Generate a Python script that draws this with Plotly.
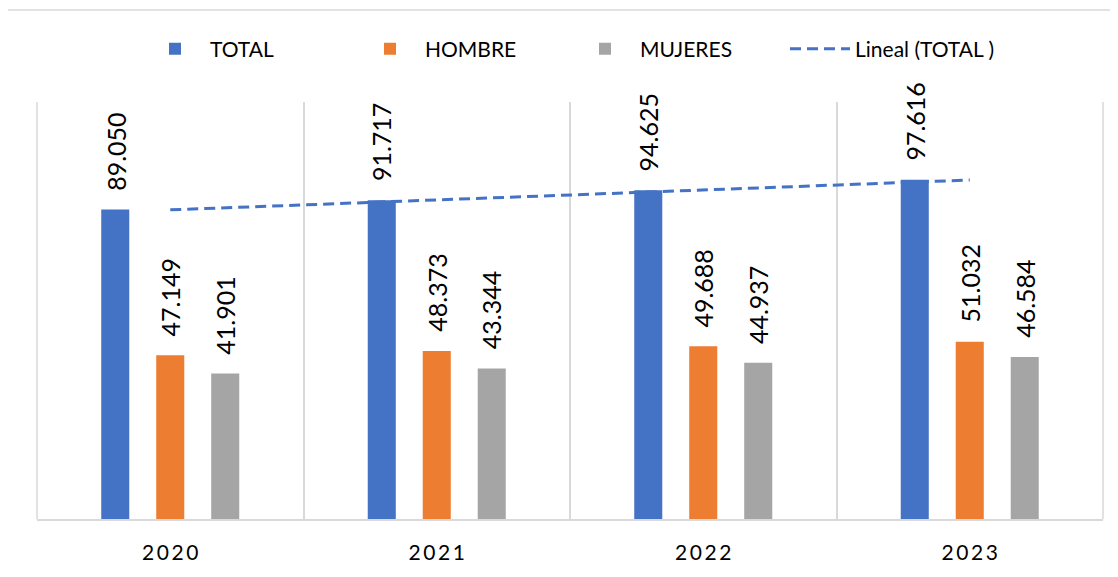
import numpy as np
import plotly.graph_objects as go

years = ["2020", "2021", "2022", "2023"]
total = [89050, 91717, 94625, 97616]
hombre = [47149, 48373, 49688, 51032]
mujeres = [41901, 43344, 44937, 46584]

colors = {"TOTAL": "#4472C4", "HOMBRE": "#ED7D31", "MUJERES": "#A5A5A5"}
series = [("TOTAL", total), ("HOMBRE", hombre), ("MUJERES", mujeres)]

FONT = "Lato, Liberation Sans, sans-serif"
GRID = "#d9d9d9"

fig = go.Figure()

for name, vals in series:
    fig.add_trace(go.Bar(
        x=years, y=vals, name=name,
        marker=dict(color=colors[name], line=dict(width=0)),
    ))

# linear trendline of TOTAL (what Excel calls "Lineal")
xi = np.arange(len(years))
slope, icpt = np.polyfit(xi, total, 1)
fig.add_trace(go.Scatter(
    x=years, y=slope * xi + icpt, mode="lines", name="Lineal (TOTAL )",
    line=dict(color="#4472C4", width=3, dash="11px,6px"),
))

# rotated value labels above the bars (x given as category index)
shifts = [-55, 0, 55]
for (name, vals), dx in zip(series, shifts):
    for i, v in enumerate(vals):
        fig.add_annotation(
            x=i, y=v, text=f"{v:,}".replace(",", "."),
            textangle=-90, showarrow=False,
            xshift=dx, yshift=17, yanchor="bottom", xanchor="center",
            font=dict(family=FONT, size=25, color="#000000"),
        )

# outer chart border and the two outer vertical lines of the plot area
fig.add_shape(type="rect", xref="paper", yref="paper",
              x0=-0.030, x1=1.03, y0=-0.25, y1=1.2206,
              line=dict(color=GRID, width=1.5), fillcolor="rgba(0,0,0,0)",
              layer="below")
for xp in (0, 1):
    fig.add_shape(type="line", xref="paper", yref="paper",
                  x0=xp, x1=xp, y0=0, y1=1,
                  line=dict(color=GRID, width=1.5), layer="below")

# the page adds an 8px body margin, so margins are set 8px smaller
fig.update_layout(
    width=1118, height=577,
    margin=dict(l=29, r=23, t=94, b=66, autoexpand=False),
    paper_bgcolor="white", plot_bgcolor="white",
    barmode="group", bargap=0.381, bargroupgap=0.49,
    showlegend=True,
    legend=dict(orientation="h", x=0.5, xanchor="center", y=1.127, yanchor="middle",
                font=dict(family=FONT, size=21, color="#000000"),
                itemwidth=60, entrywidth=140, traceorder="normal"),
    font=dict(family=FONT, color="#000000"),
)

fig.update_xaxes(
    type="category", tickson="boundaries", showgrid=True,
    gridcolor=GRID, gridwidth=1.5,
    showline=True, linecolor=GRID, linewidth=1.5,
    ticks="", ticklabelstandoff=14, automargin=False,
    tickvals=years, ticktext=["\u2009".join(y) for y in years],
    tickfont=dict(family=FONT, size=21, color="#000000"),
    range=[-0.5, 3.5],
)
fig.update_yaxes(range=[0, 120000], showgrid=False, showticklabels=False,
                 zeroline=False, showline=False, automargin=False)

fig.write_html("out.html")
